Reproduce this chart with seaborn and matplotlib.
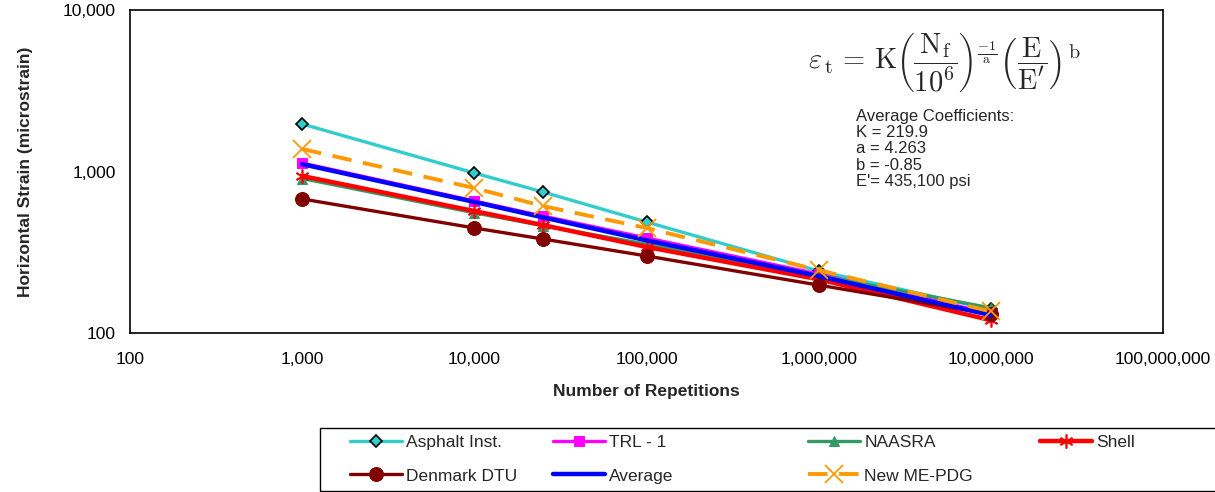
import numpy as np
import pandas as pd
import matplotlib
matplotlib.use("Agg")
import matplotlib.pyplot as plt
import matplotlib.patches as mpatches
import seaborn as sns
from matplotlib.ticker import FuncFormatter, FixedLocator, NullLocator

# DATA

repetitions = [1000, 10000, 25000, 100000, 1000000, 10000000]

asphalt_inst = [1968, 979, 747, 487, 242, 140]
trl_1 = [1129, 657, 530, 388, 232, 132]
naasra = [905, 555, 462, 355, 228, 143]
shell = [938, 569, 466, 341, 215, 120]
denmark_dtu = [676, 447, 382, 300, 198, 131]
average = [1110, 648, 520, 375, 225, 129]
new_me_pdg = [1378, 790, 611, 447, 245, 136]

x_ticks = [100, 1000, 10000, 100000, 1000000, 10000000, 100000000]
y_ticks = [100, 1000, 10000]

coef_lines = ["Average Coefficients:", "K = 219.9", "a = 4.263",
              "b = -0.85", "E'= 435,100 psi"]

# STYLE

sns.set_style("white")
plt.rcParams['font.family'] = ['Liberation Sans', 'DejaVu Sans']
plt.rcParams['mathtext.fontset'] = 'cm'

FS = 12.5
W, H = 1215, 492

fig = plt.figure(figsize=(12.15, 4.92), dpi=100)
ax = fig.add_axes([130/W, 1-333/H, (1163-130)/W, (333-10)/H])

series = [
    ("Asphalt Inst.", asphalt_inst, dict(color="#33CCCC", marker="D", ms=6,
                                         mfc="#33CCCC", mec="black", mew=1.2, lw=2.4)),
    ("TRL - 1", trl_1, dict(color="#FF00FF", marker="s", ms=7, mfc="#FF00FF",
                           mec="#FF00FF", lw=2.4)),
    ("NAASRA", naasra, dict(color="#339966", marker="^", ms=7, mfc="#339966",
                            mec="#339966", lw=2.4)),
    ("Shell", shell, dict(color="#FF0000", marker=(6, 2, 0), ms=10, mec="#FF0000",
                          mew=1.2, lw=3.2)),
    ("Denmark DTU", denmark_dtu, dict(color="#800000", marker="o", ms=10,
                                      mfc="#800000", mec="#800000", lw=2.4)),
    ("Average", average, dict(color="#0000FF", lw=3.2)),
    ("New ME-PDG", new_me_pdg, dict(color="#FF9900", marker="x", ms=13, mew=1.3,
                                    mec="#FF9900", ls=(0, (5, 3)), lw=2.8)),
]

for name, vals, kw in series:
    sns.lineplot(x=repetitions, y=vals, ax=ax, label=name, **kw)

h, l = ax.get_legend_handles_labels()
if ax.get_legend() is not None:
    ax.get_legend().remove()

ax.set_xscale("log")
ax.set_yscale("log")
ax.set_xlim(100, 100000000)
ax.set_ylim(100, 10000)

fmt = FuncFormatter(lambda v, p: f"{int(round(v)):,}")
ax.xaxis.set_major_locator(FixedLocator(x_ticks))
ax.yaxis.set_major_locator(FixedLocator(y_ticks))
ax.xaxis.set_minor_locator(NullLocator())
ax.yaxis.set_minor_locator(NullLocator())
ax.xaxis.set_major_formatter(fmt)
ax.yaxis.set_major_formatter(fmt)
ax.tick_params(axis="both", direction="out", length=5, width=1, color="black",
               labelsize=FS, labelcolor="black", pad=5)
ax.tick_params(axis="x", pad=9)

for s in ax.spines.values():
    s.set_color("black")
    s.set_linewidth(1.2)

ax.set_xlabel("Number of Repetitions", fontsize=FS, fontweight="bold", labelpad=12)
ax.set_ylabel("Horizontal Strain (microstrain)", fontsize=FS, fontweight="bold",
              labelpad=22)

# equation and coefficients

fig.text(808/W, 1-63/H,
         r"$\varepsilon_{\,\mathrm{t}}\, =\, \mathrm{K}\left(\dfrac{\mathrm{N}_{\mathrm{f}}}{10^{6}}\right)"
         r"^{\frac{-1}{\mathrm{a}}}"
         r"\left(\dfrac{\mathrm{E}}{\mathrm{E'}}\right)^{\,\mathrm{b}}$",
         fontsize=20.5, va="center", ha="left")
fig.text(856/W, 1-109/H, "\n".join(coef_lines), fontsize=12, va="top",
         ha="left", linespacing=1.1)

# legend: Excel style, two rows and four columns at fixed positions

columns = [(350, ["Asphalt Inst.", "Denmark DTU"]),
           (553, ["TRL - 1", "Average"]),
           (808, ["NAASRA", "New ME-PDG"]),
           (1040, ["Shell"])]
for x0, names in columns:
    fig.legend([h[l.index(n)] for n in names], names, loc="upper left",
               bbox_to_anchor=(x0/W, 1-435/H), frameon=False,
               fontsize=FS, handlelength=3.0, handletextpad=0.25,
               labelspacing=1.05, borderpad=0, borderaxespad=0)

fig.add_artist(mpatches.Rectangle((320/W, 1-491/H), (1230-320)/W, (491-428)/H,
                                  transform=fig.transFigure, fill=False,
                                  edgecolor="black", lw=1.0, clip_on=False))

fig.savefig("out.png", dpi=100)
